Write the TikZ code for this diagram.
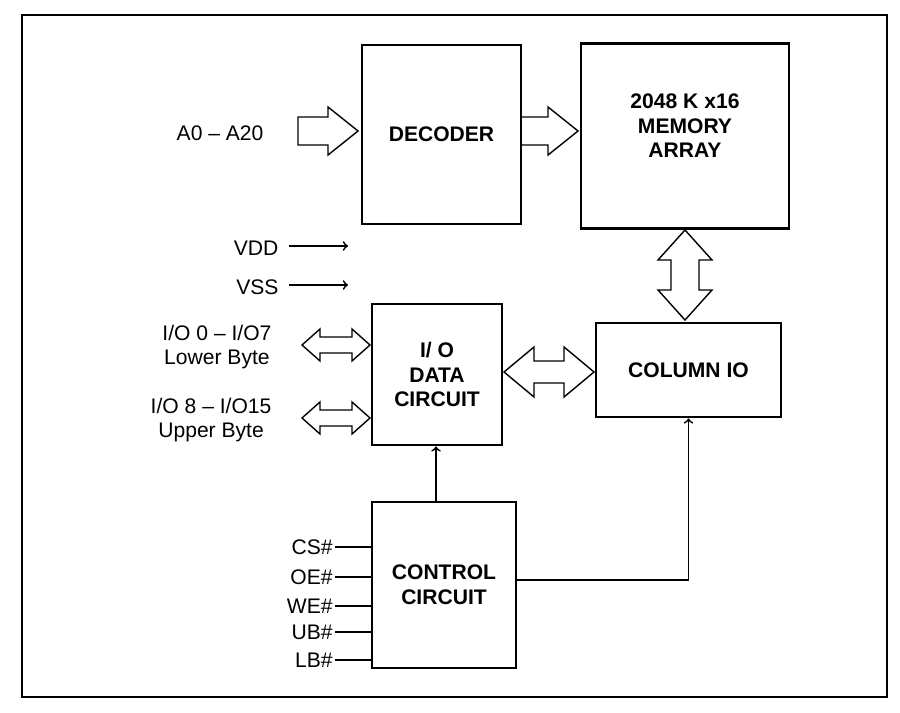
\documentclass[tikz,border=0pt]{standalone}
\usepackage{fontspec}
\setmainfont{Liberation Sans}
% hollow arrows: start x, end x, y, shaft half, head half, head length
\newcommand\fatright[6]{\draw[fat] (#1,#3-#4) -- (#2-#6,#3-#4) -- (#2-#6,#3-#5) -- (#2,#3)
  -- (#2-#6,#3+#5) -- (#2-#6,#3+#4) -- (#1,#3+#4) -- cycle;}
\newcommand\fatboth[6]{\draw[fat] (#1,#3) -- (#1+#6,#3-#5) -- (#1+#6,#3-#4) -- (#2-#6,#3-#4)
  -- (#2-#6,#3-#5) -- (#2,#3) -- (#2-#6,#3+#5) -- (#2-#6,#3+#4) -- (#1+#6,#3+#4)
  -- (#1+#6,#3+#5) -- cycle;}
\begin{document}
\begin{tikzpicture}[x=0.02cm,y=-0.02cm,thick,
  block/.style={draw,line width=1.6pt,font=\bfseries\large,align=center,inner sep=0pt},
  fat/.style={draw,line width=0.8pt,line join=miter},
  lbl/.style={font=\large,align=center}]

  \useasboundingbox (0,0) rectangle (900,713);
  \draw[line width=0.8pt] (22,15) rectangle (887,697);

  % blocks
  \node[block,minimum width=3.18cm,minimum height=3.58cm] (dec) at (441.5,134.5) {DECODER};
  \node[block,minimum width=4.16cm,minimum height=3.7cm,anchor=north] (mem) at (685,42)
    {};
  \node[lbl,font=\bfseries\large] at (685,126) {2048 K x16\\ MEMORY\\ ARRAY};
  \node[block,minimum width=2.6cm,minimum height=2.82cm] (iod) at (437,374.5) {I/ O\\ DATA\\ CIRCUIT};
  \node[block,minimum width=3.7cm,minimum height=1.88cm] (col) at (688.5,370) {COLUMN IO};
  \node[block,minimum width=2.88cm,minimum height=3.32cm] (ctl) at (444,585) {CONTROL\\ CIRCUIT};

  % hollow arrows
  \fatright{298}{358}{131}{14}{24}{30}
  \fatright{521}{578}{131}{14}{24}{30}
  \fatboth{504}{594}{372}{11}{25}{30}
  \fatboth{302}{370}{345}{8}{16}{18}
  \fatboth{302}{370}{418}{8}{16}{18}
  \begin{scope}[shift={(685,275)},rotate=90]
    \fatboth{-45}{45}{0}{14}{27}{30}
  \end{scope}
  \node[lbl,anchor=east] (alab) at (270,133) {A0 -- A20};
  \node[lbl,anchor=east] (lol) at (278,347) {I/O 0 -- I/O7\\ Lower Byte};
  \node[lbl,anchor=east] (upl) at (278,420) {I/O 8 -- I/O15\\ Upper Byte};

  % supplies
  \node[lbl,anchor=east] (vdd) at (285,248) {VDD};
  \node[lbl,anchor=east] (vss) at (285,287) {VSS};
  \coordinate (vdde) at (348,246);
  \coordinate (vsse) at (348,285);
  \draw[->,line width=1pt] (vdd.east) ++(4,-2) -- (vdde);
  \draw[->,line width=1pt] (vss.east) ++(4,-2) -- (vsse);

  % control inputs
  \foreach \s/\y in {CS\#/547,OE\#/577,WE\#/606,UB\#/632,LB\#/660}
    {\node[lbl,anchor=east,inner sep=1pt] (in\y) at (335,\y) {\s};
     \draw[line width=0.8pt] (in\y.east) -- (ctl.west |- in\y.east);}

  \draw[->,line width=1pt] (ctl.north -| 436,0) -- (iod.south -| 436,0);
  \draw[->,line width=1pt] (ctl.east |- 0,580) -| (col.south);
\end{tikzpicture}
\end{document}
